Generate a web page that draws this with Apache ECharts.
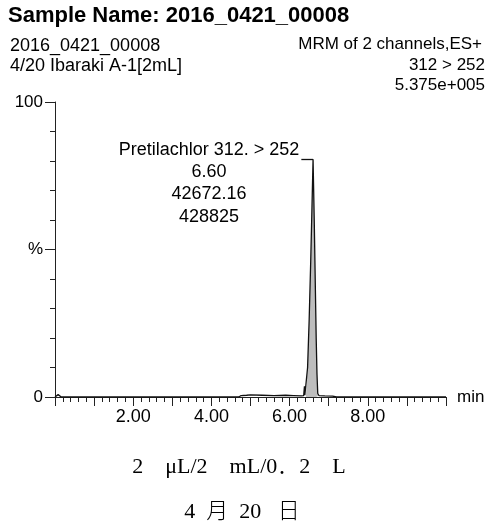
<!DOCTYPE html>
<html>
<head>
<meta charset="utf-8">
<script src="https://cdn.jsdelivr.net/npm/echarts@6/dist/echarts.min.js"></script>
<style>
html,body{margin:0;padding:0;background:#fff;}
#chart{width:491px;height:529px;}
</style>
</head>
<body>
<div id="chart"></div>
<script>
// ---- data ----
const titleText = 'Sample Name: 2016_0421_00008';
const headerLeft = ['2016_0421_00008', '4/20 Ibaraki A-1[2mL]'];
const headerRight = ['MRM of 2 channels,ES+', '312 > 252', '5.375e+005'];
const captions = ['2\u3000\u03bcL/2\u3000mL/0\uff0e2\u3000L', '4  \u6708  20   \u65e5'];

// chromatogram trace (retention time in min, relative intensity %)
const rtMin = [0.00, 0.04, 0.08, 0.12, 0.16, 4.70, 4.76, 4.90, 4.95, 5.00, 5.30, 5.60, 5.90, 6.10, 6.30, 6.36, 6.38, 6.39, 6.42, 6.46, 6.50, 6.54, 6.57, 6.60, 6.63, 6.66, 6.68, 6.70, 6.71, 6.72, 6.75, 6.90, 7.10, 7.20, 10.00];
const intensityPct = [0.0, 0.5, 0.8, 0.2, 0.0, 0.0, 0.5, 0.6, 1.2, 0.7, 0.6, 0.5, 0.6, 0.5, 0.4, 0.5, 3.6, 0.6, 1.0, 10, 26, 46, 63, 80.6, 60, 36, 20, 8, 4.5, 1.2, 0.5, 0.4, 0.3, 0.0, 0.0];

// integrated peak (shaded)
const peakStartIdx = 18;
const peakEndIdx = 30;

// peak annotation
const peakName = 'Pretilachlor';
const peakChannel = '312. > 252';
const peakRT = 6.60;
const peakApex = 80.6;
const peakArea = '42672.16';
const peakHeight = '428825';
const leaderStart = 6.30;

// axis ticks
const xMin = 0, xMax = 10, xInterval = 1;
const xLabelValues = [2, 4, 6, 8];
const yMin = 0, yMax = 100, yInterval = 50;
const yLabels = {0: '0', 50: '%', 100: '100'};

// ---- chart ----
const trace = rtMin.map((t, i) => [t, intensityPct[i]]);
const peakFill = trace.slice(peakStartIdx, peakEndIdx + 1);

const sans = '"Liberation Sans", Arial, sans-serif';
const serifCjk = '"Liberation Serif", "Noto Sans CJK JP", serif';
const ink = '#000';
const chart = echarts.init(document.getElementById('chart'), null, {renderer: 'canvas'});

chart.setOption({
  animation: false,
  backgroundColor: '#ffffff',
  grid: {left: 55, right: 45, top: 102, bottom: 132, containLabel: false},
  xAxis: {
    type: 'value', min: xMin, max: xMax, interval: xInterval,
    name: 'min', nameLocation: 'end', nameGap: 11,
    nameTextStyle: {fontFamily: sans, fontSize: 17, color: ink, verticalAlign: 'middle'},
    axisLine: {show: true, lineStyle: {color: '#222', width: 1}},
    axisTick: {show: true, length: 9, lineStyle: {color: '#222', width: 1}},
    minorTick: {show: true, splitNumber: 5, length: 5, lineStyle: {color: '#222', width: 1}},
    splitLine: {show: false},
    axisLabel: {
      margin: 11, fontFamily: sans, fontSize: 18, color: ink,
      formatter: v => xLabelValues.indexOf(v) >= 0 ? v.toFixed(2) : ''
    }
  },
  yAxis: {
    type: 'value', min: yMin, max: yMax, interval: yInterval,
    axisLine: {show: true, lineStyle: {color: '#222', width: 1}},
    axisTick: {show: true, length: 10, lineStyle: {color: '#222', width: 1}},
    minorTick: {show: true, splitNumber: 5, length: 5, lineStyle: {color: '#222', width: 1}},
    splitLine: {show: false},
    axisLabel: {
      margin: 12, fontFamily: sans, fontSize: 17, color: ink,
      formatter: v => (yLabels[v] !== undefined ? yLabels[v] : '')
    }
  },
  series: [
    {
      type: 'line', data: peakFill, symbol: 'none', silent: true, z: 2,
      lineStyle: {width: 0, opacity: 0},
      areaStyle: {color: '#bdbdbd', opacity: 1}
    },
    {
      type: 'line', data: trace, symbol: 'none', silent: true, z: 3,
      lineStyle: {color: '#111', width: 1.3},
      markLine: {
        silent: true, symbol: 'none', animation: false,
        lineStyle: {color: '#111', width: 1.3, type: 'solid'},
        label: {show: false},
        data: [[{coord: [leaderStart, peakApex]}, {coord: [peakRT, peakApex]}]]
      },
      markPoint: {
        silent: true, animation: false,
        symbol: 'circle', symbolSize: 2,
        itemStyle: {color: 'rgba(0,0,0,0)'},
        label: {
          show: true, position: 'inside', offset: [-104, 24],
          align: 'center', verticalAlign: 'middle',
          fontFamily: sans, fontSize: 18, lineHeight: 22.3, color: ink,
          formatter: peakName + ' ' + peakChannel + '\n' + peakRT.toFixed(2) + '\n' + peakArea + '\n' + peakHeight
        },
        data: [{coord: [peakRT, peakApex]}]
      }
    }
  ],
  graphic: [
    {type: 'text', left: 8, top: 5, style: {text: titleText, font: 'bold 22px ' + sans, fill: ink}},
    {type: 'text', x: 10, y: 46, style: {text: headerLeft[0], font: '18px ' + sans, fill: ink, textVerticalAlign: 'middle'}},
    {type: 'text', x: 10, y: 66, style: {text: headerLeft[1], font: '18px ' + sans, fill: ink, textVerticalAlign: 'middle'}},
    {type: 'text', x: 482, y: 44, style: {text: headerRight[0], font: '17px ' + sans, fill: ink, textAlign: 'right', textVerticalAlign: 'middle'}},
    {type: 'text', x: 485, y: 65, style: {text: headerRight[1], font: '17px ' + sans, fill: ink, textAlign: 'right', textVerticalAlign: 'middle'}},
    {type: 'text', x: 485, y: 85, style: {text: headerRight[2], font: '17px ' + sans, fill: ink, textAlign: 'right', textVerticalAlign: 'middle'}},
    {type: 'text', x: 239, y: 467, style: {text: captions[0], font: '300 22px ' + serifCjk, fill: ink, textAlign: 'center', textVerticalAlign: 'middle'}},
    {type: 'text', x: 242, y: 512, style: {text: captions[1], font: '300 22px ' + serifCjk, fill: ink, textAlign: 'center', textVerticalAlign: 'middle'}}
  ]
});
</script>
</body>
</html>
